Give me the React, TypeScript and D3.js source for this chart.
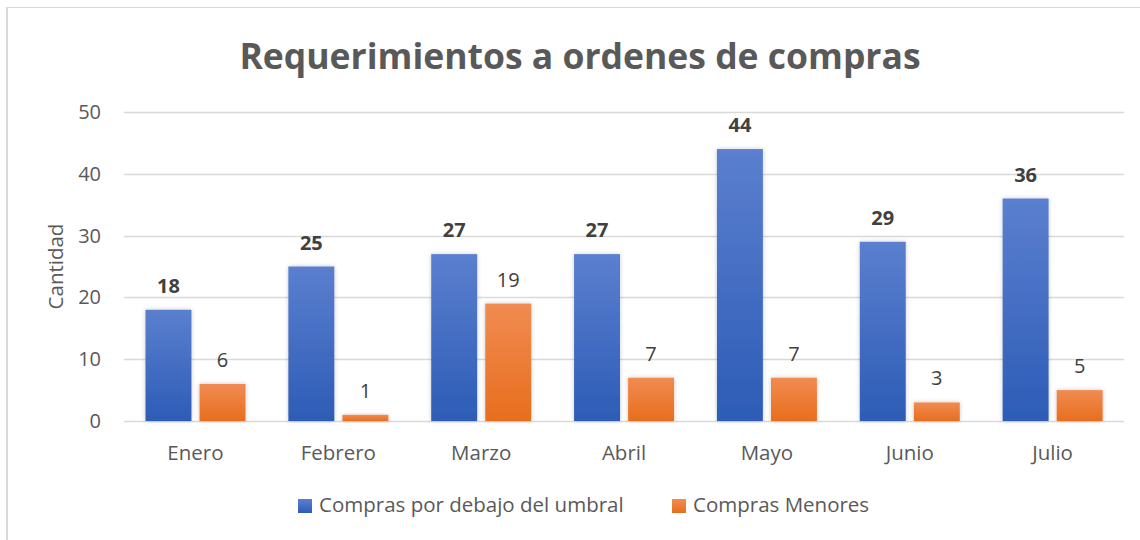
import React, { useEffect, useRef } from 'react';
import * as d3 from 'd3';

const months = ['Enero', 'Febrero', 'Marzo', 'Abril', 'Mayo', 'Junio', 'Julio'];
const umbral = [18, 25, 27, 27, 44, 29, 36];
const menores = [6, 1, 19, 7, 7, 3, 5];
const seriesNames = ['Compras por debajo del umbral', 'Compras Menores'];
const yTicks = [0, 10, 20, 30, 40, 50];

const FONT = "'Open Sans', 'DejaVu Sans', sans-serif";

const App: React.FC = () => {
  const svgRef = useRef<SVGSVGElement>(null);

  useEffect(() => {
    document.body.style.margin = '0';
    if (!svgRef.current) return;
    const svg = d3.select(svgRef.current);
    svg.selectAll('*').remove();

    const width = 1140;
    const height = 540;
    const left = 124, right = 1124, top = 112, bottom = 421;

    const defs = svg.append('defs');
    const grad = (id: string, c0: string, c1: string) => {
      const g = defs.append('linearGradient').attr('id', id)
        .attr('x1', 0).attr('y1', 0).attr('x2', 0).attr('y2', 1);
      g.append('stop').attr('offset', '0%').attr('stop-color', c0);
      g.append('stop').attr('offset', '100%').attr('stop-color', c1);
    };
    grad('gBlue', '#5b7fcf', '#2d5cb6');
    grad('gOrange', '#f18b52', '#e86e1d');
    const f = defs.append('filter').attr('id', 'shadow')
      .attr('x', '-20%').attr('y', '-20%').attr('width', '140%').attr('height', '140%');
    f.append('feDropShadow').attr('dx', 0).attr('dy', 0).attr('stdDeviation', 2)
      .attr('flood-color', '#000').attr('flood-opacity', 0.22);

    svg.append('rect').attr('width', width).attr('height', height).attr('fill', '#fff');
    // chart border (only top and left visible in crop)
    svg.append('line').attr('x1', 6).attr('x2', width).attr('y1', 7.5).attr('y2', 7.5)
      .attr('stroke', '#d9d9d9').attr('stroke-width', 1);
    svg.append('line').attr('x1', 7).attr('x2', 7).attr('y1', 7).attr('y2', height)
      .attr('stroke', '#d9d9d9').attr('stroke-width', 2);

    const x0 = d3.scaleBand<string>().domain(months).range([left, right]).paddingInner(0).paddingOuter(0);
    const x1 = d3.scaleBand<string>().domain(['a', 'b']).range([21.5, 121.5])
      .paddingInner(0.15).paddingOuter(0);
    const y = d3.scaleLinear().domain([0, 50]).range([bottom, top]);

    // gridlines
    svg.append('g').selectAll('line').data(yTicks).join('line')
      .attr('x1', left).attr('x2', right)
      .attr('y1', d => Math.round(y(d)) + 0.5).attr('y2', d => Math.round(y(d)) + 0.5)
      .attr('stroke', '#d9d9d9').attr('stroke-width', 1.5);

    // y tick labels
    svg.append('g').selectAll('text').data(yTicks).join('text')
      .attr('x', 101).attr('y', d => y(d)).attr('dy', '0.35em')
      .attr('text-anchor', 'end').attr('fill', '#595959')
      .style('font', `20px ${FONT}`).text(d => d);

    svg.append('text')
      .attr('transform', `translate(63,${(top + bottom) / 2}) rotate(-90)`)
      .attr('text-anchor', 'middle').attr('fill', '#595959')
      .style('font', `20.5px ${FONT}`).text('Cantidad');

    // x labels
    svg.append('g').selectAll('text').data(months).join('text')
      .attr('x', d => x0(d)! + x0.bandwidth() / 2).attr('y', 460)
      .attr('text-anchor', 'middle').attr('fill', '#595959')
      .style('font', `20.5px ${FONT}`).text(d => d);

    const data = months.map((m, i) => ({ m, a: umbral[i], b: menores[i] }));
    const g = svg.append('g').selectAll('g').data(data).join('g')
      .attr('transform', d => `translate(${x0(d.m)},0)`);

    g.append('rect').attr('x', x1('a')!).attr('width', x1.bandwidth())
      .attr('y', d => y(d.a)).attr('height', d => bottom - y(d.a))
      .attr('fill', 'url(#gBlue)').attr('filter', 'url(#shadow)');
    g.append('rect').attr('x', x1('b')!).attr('width', x1.bandwidth())
      .attr('y', d => y(d.b)).attr('height', d => bottom - y(d.b))
      .attr('fill', 'url(#gOrange)').attr('filter', 'url(#shadow)');

    g.append('text').attr('x', x1('a')! + x1.bandwidth() / 2).attr('y', d => y(d.a) - 17)
      .attr('text-anchor', 'middle').attr('fill', '#404040')
      .style('font', `bold 20px ${FONT}`).text(d => d.a);
    g.append('text').attr('x', x1('b')! + x1.bandwidth() / 2).attr('y', d => y(d.b) - 17)
      .attr('text-anchor', 'middle').attr('fill', '#404040')
      .style('font', `20px ${FONT}`).text(d => d.b);

    // title
    svg.append('text').attr('x', 580).attr('y', 69).attr('text-anchor', 'middle')
      .attr('fill', '#595959').style('font', `bold 35.5px ${FONT}`)
      .text('Requerimientos a ordenes de compras');

    // legend
    const legend = svg.append('g');
    const items = [
      { name: seriesNames[0], fill: 'url(#gBlue)', x: 298 },
      { name: seriesNames[1], fill: 'url(#gOrange)', x: 672 },
    ];
    const li = legend.selectAll('g').data(items).join('g')
      .attr('transform', d => `translate(${d.x},0)`);
    li.append('rect').attr('x', 0).attr('y', 499).attr('width', 14).attr('height', 14)
      .attr('fill', d => d.fill);
    li.append('text').attr('x', 21).attr('y', 512)
      .attr('fill', '#595959').style('font', `20.5px ${FONT}`).text(d => d.name);
  }, []);

  return <svg ref={svgRef} width={1140} height={540} style={{ display: 'block' }} />;
};

export default App;
